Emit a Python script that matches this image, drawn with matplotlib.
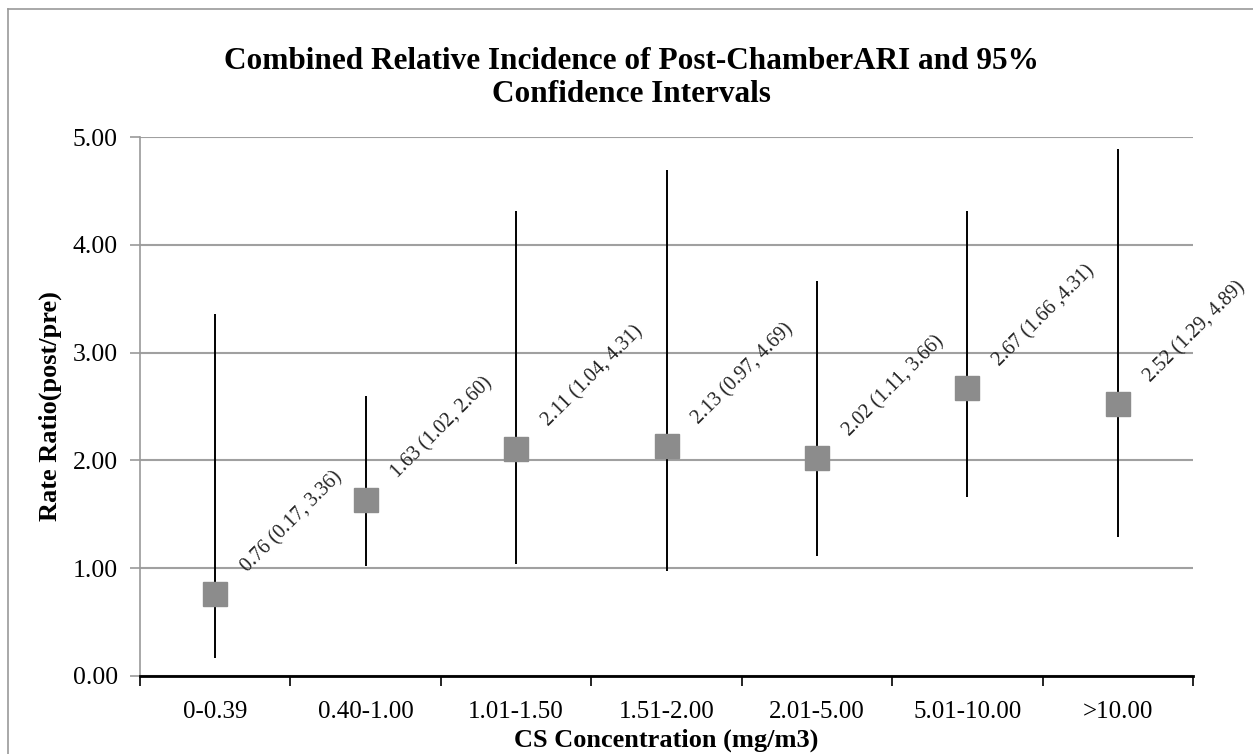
import numpy as np
import matplotlib
matplotlib.use("Agg")
import matplotlib.pyplot as plt
from matplotlib.lines import Line2D

categories = ["0-0.39", "0.40-1.00", "1.01-1.50", "1.51-2.00",
              "2.01-5.00", "5.01-10.00", ">10.00"]
rate_ratio = [0.76, 1.63, 2.11, 2.13, 2.02, 2.67, 2.52]
ci_low = [0.17, 1.02, 1.04, 0.97, 1.11, 1.66, 1.29]
ci_high = [3.36, 2.60, 4.31, 4.69, 3.66, 4.31, 4.89]
point_labels = ["0.76 (0.17, 3.36)", "1.63 (1.02, 2.60)", "2.11 (1.04, 4.31)",
                "2.13 (0.97, 4.69)", "2.02 (1.11, 3.66)", "2.67 (1.66 ,4.31)",
                "2.52 (1.29, 4.89)"]

plt.rcParams['font.family'] = ['Liberation Serif', 'DejaVu Serif']

fig = plt.figure(figsize=(12.53, 7.54), dpi=100)
ax = fig.add_axes([140 / 1253, 78 / 754, 1053 / 1253, 539 / 754])

# outer chart frame (top and left edges visible)
fig.add_artist(Line2D([8 / 1253, 1], [1 - 9 / 754, 1 - 9 / 754],
                      transform=fig.transFigure, color="#999999", lw=1.2))
fig.add_artist(Line2D([8 / 1253, 8 / 1253], [0, 1 - 9 / 754],
                      transform=fig.transFigure, color="#999999", lw=1.2))

x = np.arange(len(categories))
ax.vlines(x, ci_low, ci_high, color="black", lw=1.4, zorder=3)
ax.plot(x, rate_ratio, ls="none", marker="s", ms=17, color="#8c8c8c",
        markeredgecolor="#8c8c8c", zorder=4)

for xi, yi, txt in zip(x, rate_ratio, point_labels):
    ax.annotate(txt, (xi, yi), xytext=(26, 13), textcoords="offset points",
                rotation=45, rotation_mode="anchor", ha="left", va="bottom",
                fontsize=14.5, color="#222222")

ax.set_xlim(-0.5, len(categories) - 0.5)
ax.set_ylim(0, 5)
ax.set_yticks(np.arange(0, 5.01, 1))
ax.set_yticklabels([f"{v:.2f}" for v in np.arange(0, 5.01, 1)], fontsize=18.5)
ax.yaxis.grid(True, color="#a0a0a0", lw=1.5)
ax.set_axisbelow(True)

ax.set_xticks(x)
ax.set_xticklabels(categories, fontsize=18)
ax.set_xticks(np.arange(-0.5, len(categories), 1), minor=True)
ax.tick_params(axis="x", which="major", length=0, pad=18)
ax.tick_params(axis="x", which="minor", length=7, width=1.2, color="black")
ax.tick_params(axis="y", length=7, width=1.2, color="#999999", pad=9)

for s in ["top", "right"]:
    ax.spines[s].set_visible(False)
ax.spines["left"].set_color("#999999")
ax.spines["left"].set_linewidth(1.2)
ax.spines["bottom"].set_color("black")
ax.spines["bottom"].set_linewidth(2)

ax.set_xlabel("CS Concentration (mg/m3)", fontsize=19, fontweight="bold",
              labelpad=4)
ax.set_ylabel("Rate Ratio(post/pre)", fontsize=19, fontweight="bold",
              labelpad=8)
fig.text(631 / 1253, 1 - 78 / 754,
         "Combined Relative Incidence of Post-ChamberARI and 95%\nConfidence Intervals",
         ha="center", va="center", fontsize=22.5, fontweight="bold",
         linespacing=1.15)

fig.savefig("out.png", dpi=100)
